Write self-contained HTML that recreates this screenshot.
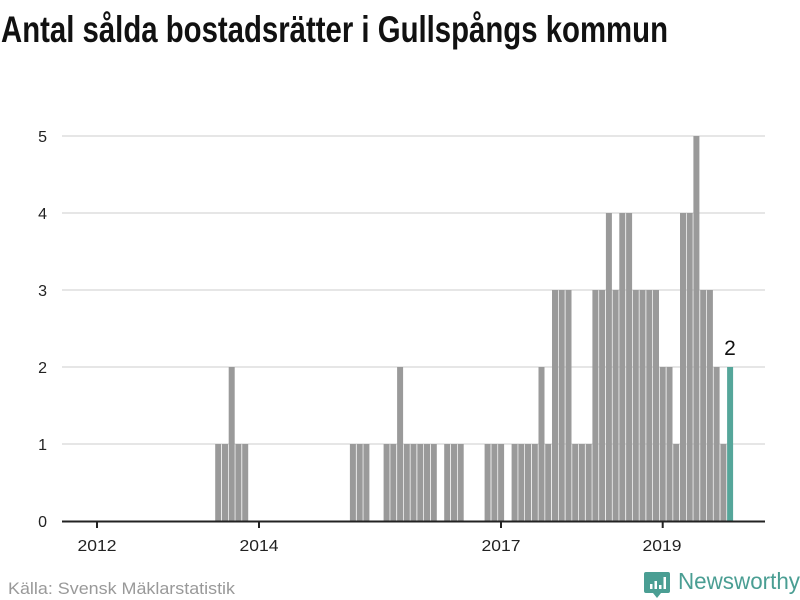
<!DOCTYPE html>
<html><head><meta charset="utf-8"><style>
html,body{margin:0;padding:0;background:#fff;}
svg{display:block;}
text{font-family:"Liberation Sans",sans-serif;}
</style></head><body>
<svg width="800" height="600" viewBox="0 0 800 600" xmlns="http://www.w3.org/2000/svg">
<text x="1" y="42" font-size="37" font-weight="bold" textLength="667" lengthAdjust="spacingAndGlyphs" fill="#111" style="font-family:'Liberation Sans Narrow','Liberation Sans',sans-serif">Antal sålda bostadsrätter i Gullspångs kommun</text>
<g stroke="#dddddd" stroke-width="1.5">
<line x1="62" x2="765" y1="136" y2="136"/><line x1="62" x2="765" y1="213" y2="213"/><line x1="62" x2="765" y1="290" y2="290"/><line x1="62" x2="765" y1="367" y2="367"/><line x1="62" x2="765" y1="444" y2="444"/>
</g>
<g font-size="16" fill="#222" text-anchor="end">
<text x="47" y="142">5</text><text x="47" y="219">4</text><text x="47" y="296">3</text><text x="47" y="373">2</text><text x="47" y="450">1</text><text x="47" y="527">0</text>
</g>
<g fill="#9a9a9a">
<rect x="215.2" y="444" width="6" height="77"/><rect x="222.0" y="444" width="6" height="77"/><rect x="228.7" y="367" width="6" height="154"/><rect x="235.4" y="444" width="6" height="77"/><rect x="242.2" y="444" width="6" height="77"/>
<rect x="349.9" y="444" width="6" height="77"/><rect x="356.7" y="444" width="6" height="77"/><rect x="363.4" y="444" width="6" height="77"/>
<rect x="383.6" y="444" width="6" height="77"/><rect x="390.3" y="444" width="6" height="77"/><rect x="397.1" y="367" width="6" height="154"/><rect x="403.8" y="444" width="6" height="77"/><rect x="410.5" y="444" width="6" height="77"/><rect x="417.3" y="444" width="6" height="77"/><rect x="424.0" y="444" width="6" height="77"/><rect x="430.8" y="444" width="6" height="77"/>
<rect x="444.2" y="444" width="6" height="77"/><rect x="451.0" y="444" width="6" height="77"/><rect x="457.7" y="444" width="6" height="77"/>
<rect x="484.6" y="444" width="6" height="77"/><rect x="491.4" y="444" width="6" height="77"/><rect x="498.1" y="444" width="6" height="77"/>
<rect x="511.6" y="444" width="6" height="77"/><rect x="518.3" y="444" width="6" height="77"/><rect x="525.0" y="444" width="6" height="77"/><rect x="531.8" y="444" width="6" height="77"/><rect x="538.5" y="367" width="6" height="154"/><rect x="545.2" y="444" width="6" height="77"/>
<rect x="552.0" y="290" width="6" height="231"/><rect x="558.7" y="290" width="6" height="231"/><rect x="565.5" y="290" width="6" height="231"/><rect x="572.2" y="444" width="6" height="77"/><rect x="578.9" y="444" width="6" height="77"/><rect x="585.7" y="444" width="6" height="77"/>
<rect x="592.4" y="290" width="6" height="231"/><rect x="599.1" y="290" width="6" height="231"/><rect x="605.9" y="213" width="6" height="308"/><rect x="612.6" y="290" width="6" height="231"/><rect x="619.3" y="213" width="6" height="308"/><rect x="626.1" y="213" width="6" height="308"/>
<rect x="632.8" y="290" width="6" height="231"/><rect x="639.5" y="290" width="6" height="231"/><rect x="646.3" y="290" width="6" height="231"/><rect x="653.0" y="290" width="6" height="231"/>
<rect x="659.7" y="367" width="6" height="154"/><rect x="666.5" y="367" width="6" height="154"/><rect x="673.2" y="444" width="6" height="77"/>
<rect x="680.0" y="213" width="6" height="308"/><rect x="686.7" y="213" width="6" height="308"/><rect x="693.4" y="136" width="6" height="385"/>
<rect x="700.2" y="290" width="6" height="231"/><rect x="706.9" y="290" width="6" height="231"/><rect x="713.6" y="367" width="6" height="154"/><rect x="720.4" y="444" width="6" height="77"/>
</g>
<rect x="727.1" y="367" width="6" height="154" fill="#55a69a"/>
<text x="730" y="355" font-size="21" text-anchor="middle" fill="#111">2</text>
<line x1="62" x2="765" y1="521.5" y2="521.5" stroke="#222" stroke-width="2"/>
<g stroke="#222" stroke-width="2">
<line x1="97" x2="97" y1="521" y2="528"/><line x1="259" x2="259" y1="521" y2="528"/><line x1="501" x2="501" y1="521" y2="528"/><line x1="662.7" x2="662.7" y1="521" y2="528"/>
</g>
<g font-size="16" fill="#222" text-anchor="middle">
<text x="97" y="551" textLength="39" lengthAdjust="spacingAndGlyphs">2012</text><text x="259" y="551" textLength="39" lengthAdjust="spacingAndGlyphs">2014</text><text x="501" y="551" textLength="39" lengthAdjust="spacingAndGlyphs">2017</text><text x="662" y="551" textLength="39" lengthAdjust="spacingAndGlyphs">2019</text>
</g>
<text x="8" y="594" font-size="17" fill="#999" textLength="227" lengthAdjust="spacingAndGlyphs">Källa: Svensk Mäklarstatistik</text>
<g>
<path d="M646 572 h22 a2 2 0 0 1 2 2 v17 a2 2 0 0 1 -2 2 h-7 l-4 5 l-4 -5 h-7 a2 2 0 0 1 -2 -2 v-17 a2 2 0 0 1 2 -2z" fill="#4a9e93"/>
<rect x="650" y="584" width="2.5" height="5" fill="#fff"/><rect x="654.5" y="581" width="2.5" height="8" fill="#fff"/><rect x="659" y="585" width="2.5" height="4" fill="#fff"/><rect x="663.5" y="577" width="2.5" height="12" fill="#fff"/>
<text x="678" y="589" font-size="23" fill="#4a9e93" textLength="122" lengthAdjust="spacingAndGlyphs">Newsworthy</text>
</g>
</svg>
</body></html>
